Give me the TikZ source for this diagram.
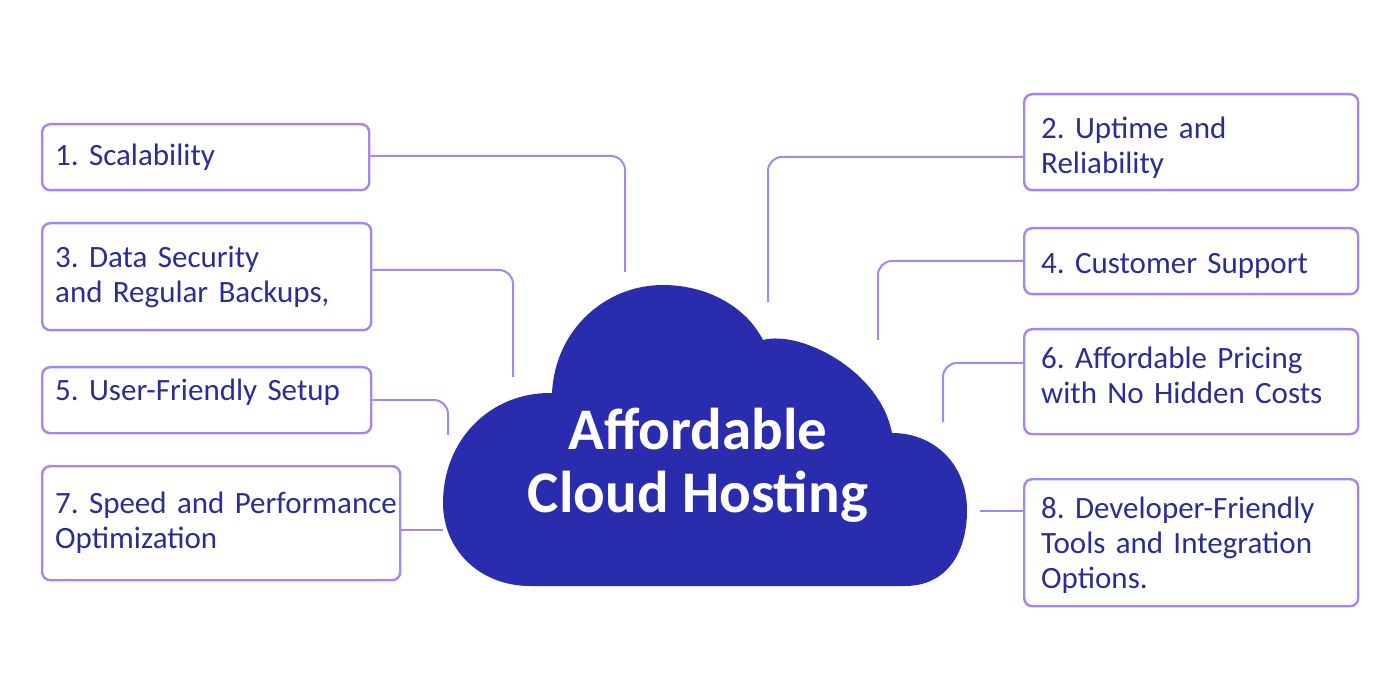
\documentclass[tikz,border=0pt]{standalone}
\usepackage{fontspec}
\setmainfont{Carlito}
\usepackage{tikz}
\usetikzlibrary{
    arrows.meta,
    positioning,
    calc
}
\definecolor{CloudBlue}{RGB}{41,44,173}
\definecolor{LinkPurple}{RGB}{168,132,240}
\definecolor{ItemNavy}{RGB}{43,45,150}
\frenchspacing
\hyphenpenalty=10000
% invisible struts to nudge text up or down inside a box
\newcommand{\padup}[1]{\rule{0pt}{#1}}
\newcommand{\paddown}[1]{\rule[-#1]{0pt}{#1}}

\begin{document}
\begin{tikzpicture}[
    x=1pt,
    y=-1pt,
    item/.style={
        draw=LinkPurple,
        rounded corners=8pt,
        fill=white,
        anchor=north west,
        inner xsep=13pt,
        inner ysep=0pt,
        align=left,
        text=ItemNavy,
        font=\fontsize{31pt}{35pt}\selectfont,
        line width=2.4pt
    },
    ritem/.style={
        item,
        inner xsep=17pt,
        text width=300pt
    },
    link/.style={
        draw=LinkPurple,
        rounded corners=14pt,
        line width=2pt
    },
    title/.style={
        align=center,
        text=white,
        font=\bfseries\fontsize{59pt}{63pt}\selectfont
    }
]
\useasboundingbox (0,0) rectangle (1400,700);
%
\fill[CloudBlue]
    (530,586)
    .. controls (480,586) and (443,550) .. (443,503)
    .. controls (443,440) and (490,392) .. (552,393)
    .. controls (555,330) and (605,285) .. (663,285)
    .. controls (705,285) and (745,305) .. (763,340)
    .. controls (800,330) and (880,370) .. (892,433)
    .. controls (935,433) and (967,465) .. (967,510)
    .. controls (967,555) and (945,586) .. (905,586)
    -- cycle;
%
\node[title] (cloud) at (698,465) {Affordable\\Cloud Hosting};
%
\node[item, text width=301pt, minimum height=66pt] (b1) at (41,123) {
    1. Scalability
};
%
\node[item, text width=303pt, minimum height=107pt] (b3) at (41,222) {
    3. Data Security\\
    and Regular Backups,
};
%
\node[item, text width=303pt, minimum height=66pt] (b5) at (41,366) {
    5. User-Friendly Setup\paddown{20pt}
};
%
\node[item, text width=332pt, minimum height=114pt] (b7) at (41,465) {
    \mbox{7. Speed and Performance}\\
    Optimization
};
%
\node[ritem, minimum height=96pt] (b2) at (1023,93) {
    \padup{33pt}2. Uptime and\\
    Reliability
};
%
\node[ritem, minimum height=66pt] (b4) at (1023,227) {
    \padup{30pt}4. Customer Support
};
%
\node[ritem, minimum height=105pt] (b6) at (1023,328) {
    6. Affordable Pricing\\
    with No Hidden Costs\paddown{12pt}
};
%
\node[ritem, minimum height=127pt] (b8) at (1023,478) {
    \padup{27.5pt}8. Developer-Friendly\\
    Tools and Integration\\
    Options.
};
%
\coordinate (k1) at (625,156);
\coordinate (t1) at (625,272);
\coordinate (k3) at (513,270);
\coordinate (t3) at (513,377);
\coordinate (k5) at (448,400);
\coordinate (t5) at (448,435);
\coordinate (t7) at (443,530);
\coordinate (k2) at (768,157);
\coordinate (t2) at (768,302);
\coordinate (k4) at (878,261);
\coordinate (t4) at (878,340);
\coordinate (k6) at (943,363);
\coordinate (t6) at (943,422);
\coordinate (t8) at (980,511);
%
\draw[link] (b1.east |- k1) -- (k1) -- (t1);
\draw[link] (b3.east |- k3) -- (k3) -- (t3);
\draw[link] (b5.east |- k5) -- (k5) -- (t5);
\draw[link] (b7.east |- t7) -- (t7);
\draw[link] (b2.west |- k2) -- (k2) -- (t2);
\draw[link] (b4.west |- k4) -- (k4) -- (t4);
\draw[link] (b6.west |- k6) -- (k6) -- (t6);
\draw[link] (b8.west |- t8) -- (t8);
%
\end{tikzpicture}
\end{document}
